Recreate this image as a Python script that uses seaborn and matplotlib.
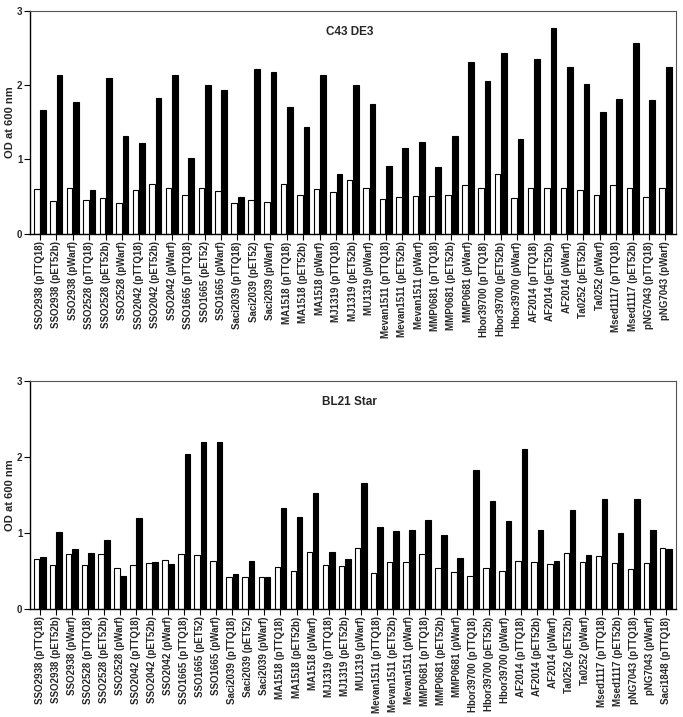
import matplotlib
matplotlib.use("Agg")
from matplotlib import pyplot as plt
import seaborn as sns
import pandas as pd

# C43 DE3 panel
C43_LABELS = ["SSO2938 (pTTQ18)", "SSO2938 (pET52b)", "SSO2938 (pWarf)", "SSO2528 (pTTQ18)", "SSO2528 (pET52b)",
              "SSO2528 (pWarf)", "SSO2042 (pTTQ18)", "SSO2042 (pET52b)", "SSO2042 (pWarf)", "SSO1665 (pTTQ18)",
              "SSO1665 (pET52)", "SSO1665 (pWarf)", "Saci2039 (pTTQ18)", "Saci2039 (pET52)", "Saci2039 (pWarf)",
              "MA1518 (pTTQ18)", "MA1518 (pET52b)", "MA1518 (pWarf)", "MJ1319 (pTTQ18)", "MJ1319 (pET52b)",
              "MU1319 (pWarf)", "Mevan1511 (pTTQ18)", "Mevan1511 (pET52b)", "Mevan1511 (pWarf)", "MMP0681 (pTTQ18)",
              "MMP0681 (pET52b)", "MMP0681 (pWarf)", "Hbor39700 (pTTQ18)", "Hbor39700 (pET52b)", "Hbor39700 (pWarf)",
              "AF2014 (pTTQ18)", "AF2014 (pET52b)", "AF2014 (pWarf)", "Ta0252 (pET52b)", "Ta0252 (pWarf)",
              "Msed1117 (pTTQ18)", "Msed1117 (pET52b)", "pNG7043 (pTTQ18)", "pNG7043 (pWarf)"]
C43_OPEN = [0.60, 0.44, 0.62, 0.45, 0.48, 0.42, 0.59, 0.67, 0.61, 0.52,
            0.61, 0.57, 0.42, 0.46, 0.43, 0.67, 0.52, 0.60, 0.56, 0.72,
            0.61, 0.47, 0.49, 0.51, 0.51, 0.52, 0.65, 0.61, 0.80, 0.48,
            0.61, 0.61, 0.62, 0.59, 0.52, 0.65, 0.61, 0.50, 0.61]
C43_FILLED = [1.66, 2.13, 1.77, 0.59, 2.10, 1.31, 1.22, 1.83, 2.14, 1.02,
              2.00, 1.94, 0.49, 2.21, 2.17, 1.70, 1.43, 2.13, 0.81, 2.00,
              1.75, 0.91, 1.16, 1.23, 0.90, 1.31, 2.31, 2.06, 2.43, 1.28,
              2.35, 2.77, 2.25, 2.02, 1.64, 1.81, 2.57, 1.80, 2.24]

# BL21 Star panel
BL21_LABELS = C43_LABELS + ["Saci1848 (pTTQ18)"]
BL21_OPEN = [0.66, 0.58, 0.72, 0.58, 0.72, 0.53, 0.57, 0.60, 0.64, 0.72,
             0.71, 0.63, 0.42, 0.42, 0.42, 0.55, 0.50, 0.75, 0.58, 0.56,
             0.80, 0.47, 0.61, 0.62, 0.72, 0.53, 0.48, 0.43, 0.53, 0.50,
             0.63, 0.61, 0.59, 0.73, 0.61, 0.70, 0.60, 0.52, 0.60, 0.80]
BL21_FILLED = [0.68, 1.01, 0.79, 0.73, 0.90, 0.43, 1.19, 0.61, 0.59, 2.03,
               2.20, 2.20, 0.46, 0.63, 0.42, 1.32, 1.21, 1.52, 0.75, 0.65,
               1.65, 1.08, 1.02, 1.04, 1.17, 0.97, 0.67, 1.82, 1.42, 1.16,
               2.10, 1.04, 0.63, 1.30, 0.71, 1.45, 1.00, 1.44, 1.04, 0.79]

PANELS = [("C43 DE3", C43_LABELS, C43_OPEN, C43_FILLED),
          ("BL21 Star", BL21_LABELS, BL21_OPEN, BL21_FILLED)]

sns.set_style("ticks")
plt.rcParams['font.family'] = ['Liberation Sans', 'DejaVu Sans']

fig = plt.figure(figsize=(6.83, 7.17), dpi=100)
axTop = fig.add_axes([0.044, 0.674, 0.946, 0.311])
axBot = fig.add_axes([0.044, 0.151, 0.946, 0.318])

for ax, (title, labels, openVals, filledVals) in zip([axTop, axBot], PANELS):
    df = pd.DataFrame({
        "construct": labels * 2,
        "od": openVals + filledVals,
        "series": ["open"] * len(labels) + ["filled"] * len(labels),
    })
    sns.barplot(data=df, x="construct", y="od", hue="series", order=labels,
                hue_order=["open", "filled"], palette={"open": "white", "filled": "black"},
                edgecolor="black", linewidth=0.8, width=0.78, gap=0.12,
                legend=False, ax=ax)
    ax.set_ylim(0, 3)
    ax.set_xlim(-0.6, len(labels) - 0.35)
    ax.set_yticks([0, 1, 2, 3])
    ax.set_yticklabels(["0", "1", "2", "3"], fontsize=7, fontweight="bold")
    ax.set_xticks(range(len(labels)))
    ax.set_xticklabels(labels, rotation=90, fontsize=7, fontweight="bold")
    ax.set_xlabel("")
    ax.set_ylabel("OD at 600 nm", fontsize=8, fontweight="bold")
    ax.yaxis.set_label_coords(-0.024, 0.5)
    ax.tick_params(axis="both", length=4, width=0.8, pad=1.5, color="black")
    for side in ["left", "bottom"]:
        ax.spines[side].set_color("black")
        ax.spines[side].set_linewidth(1.0)
    for side in ["top", "right"]:
        ax.spines[side].set_visible(True)
        ax.spines[side].set_color("#555555")
        ax.spines[side].set_linewidth(0.8)
    ax.text(0.495, 0.905, title, transform=ax.transAxes, ha="center", va="center",
            fontsize=8.5, fontweight="bold")

plt.savefig("out.png", dpi=100)
